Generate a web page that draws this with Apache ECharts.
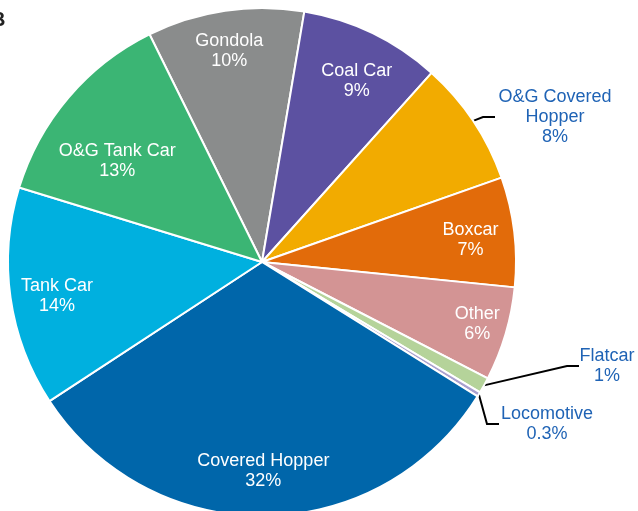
<!DOCTYPE html>
<html>

<head>
  <meta charset="utf-8">
  <title>Railcar mix pie</title>
  <style>
    html, body { margin: 0; padding: 0; background: #fff; }
    #chart { width: 638px; height: 511px; }
  </style>
</head>

<body>
  <div id="chart"></div>
  <script src="https://cdn.jsdelivr.net/npm/echarts@6/dist/echarts.min.js"></script>

  <script type="text/javascript">
    // slices, clockwise starting at Gondola
    var carTypes = ['Gondola', 'Coal Car', 'O&G Covered Hopper', 'Boxcar', 'Other',
      'Flatcar', 'Locomotive', 'Covered Hopper', 'Tank Car', 'O&G Tank Car'];
    var shares = [10, 9, 8, 7, 6, 1, 0.3, 32, 14, 13];
    var sliceColors = ['#8a8c8c', '#5c51a1', '#f2ab00', '#e26b0a', '#d39494',
      '#b5d39a', '#a9a0cf', '#0066aa', '#00b0df', '#3bb574'];

    // labels drawn outside with a leader line
    var calloutText = {
      'O&G Covered Hopper': ['O&G Covered', 'Hopper'],
      'Flatcar': ['Flatcar'],
      'Locomotive': ['Locomotive']
    };
    var calloutSpot = {
      'O&G Covered Hopper': { x: 495, y: 117, w: 120 },
      'Flatcar': { x: 579, y: 366, w: 56 },
      'Locomotive': { x: 499, y: 424, w: 96 }
    };
    // small shifts for inside labels
    var labelNudge = {
      'Gondola': [-2, -2],
      'Coal Car': [3, 9],
      'Boxcar': [-1, 3],
      'Other': [13, 2],
      'Covered Hopper': [-1, -2],
      'Tank Car': [4, 4],
      'O&G Tank Car': [16, 36]
    };

    var chart = echarts.init(document.getElementById('chart'));
    var font = '"Liberation Sans", Arial, sans-serif';

    var mainData = carTypes.map(function (name, i) {
      var item = { name: name, value: shares[i], itemStyle: { color: sliceColors[i] } };
      if (calloutText[name]) {
        item.label = {
          show: true,
          rich: { t: { width: calloutSpot[name].w, align: 'center', color: '#1f63b5', fontSize: 18, lineHeight: 20, fontFamily: font } }
        };
        item.labelLine = { show: true };
      }
      return item;
    });

    var labelData = carTypes.map(function (name, i) {
      return {
        name: name, value: shares[i],
        label: { show: !calloutText[name] }
      };
    });

    chart.setOption({
      animation: false,
      graphic: [{
        type: 'text', left: -9, top: 10,
        style: { text: 'B', font: 'bold 20px ' + font, fill: '#222' }
      }],
      series: [{
        type: 'pie',
        center: [262, 262],
        radius: [0, 254],
        startAngle: 116.3,
        clockwise: true,
        avoidLabelOverlap: false,
        itemStyle: { borderColor: '#fff', borderWidth: 2 },
        label: {
          show: false,
          position: 'outside',
          formatter: function (p) {
            var lines = (calloutText[p.name] || [p.name]).slice();
            lines.push(p.value + '%');
            return lines.map(function (l) { return '{t|' + l + '}'; }).join('\n');
          }
        },
        labelLine: {
          show: false, length: 10, length2: 12,
          lineStyle: { color: '#000', width: 2 }
        },
        labelLayout: function (p) {
          var s = calloutSpot[carTypes[p.dataIndex]];
          if (!s) return {};
          return { x: s.x, y: s.y, align: 'left', verticalAlign: 'middle' };
        },
        emphasis: { disabled: true },
        data: mainData
      }, {
        // transparent ring that only carries the inside labels
        type: 'pie',
        center: [262, 262],
        radius: [162, 254],
        startAngle: 116.3,
        clockwise: true,
        silent: true,
        avoidLabelOverlap: false,
        itemStyle: { color: 'rgba(0,0,0,0)', borderWidth: 0 },
        label: {
          position: 'inside',
          formatter: '{b}\n{c}%',
          color: '#fff',
          fontSize: 18,
          lineHeight: 20,
          fontFamily: font,
          align: 'center'
        },
        labelLine: { show: false },
        labelLayout: function (p) {
          var n = labelNudge[carTypes[p.dataIndex]];
          return n ? { dx: n[0], dy: n[1] } : {};
        },
        emphasis: { disabled: true },
        data: labelData
      }]
    });
    window.addEventListener('resize', chart.resize);
  </script>
</body>

</html>
